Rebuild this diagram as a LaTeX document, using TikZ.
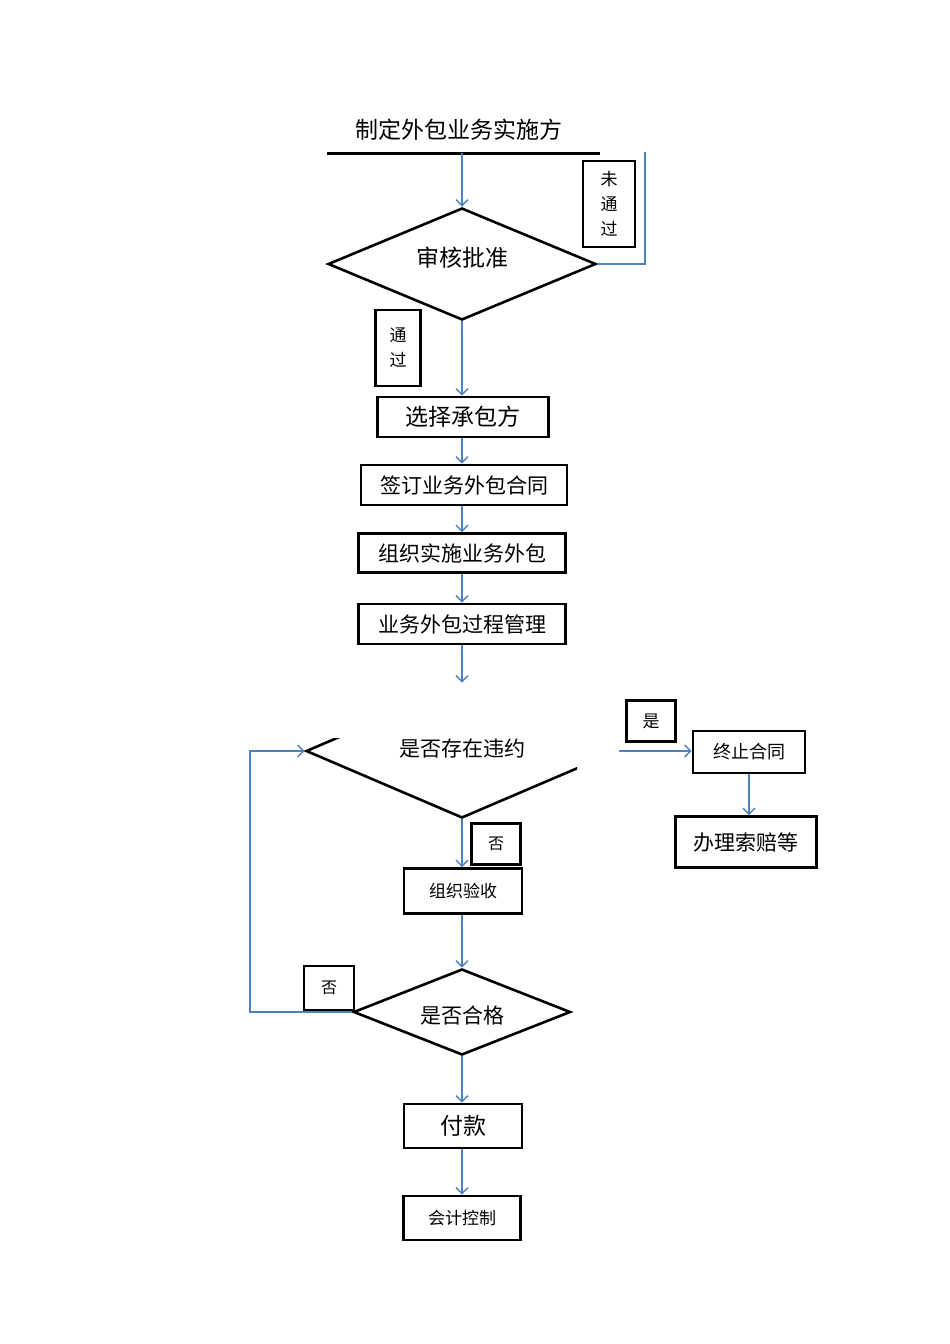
\documentclass[tikz,border=0pt]{standalone}
\usepackage{fontspec}
\newfontfamily\cjk{Noto Sans CJK SC}
\usetikzlibrary{shapes.geometric,arrows.meta}
\definecolor{conncol}{RGB}{79,129,189}
\newcommand{\fs}[1]{\fontsize{#1}{#1}\selectfont}
\tikzset{
  stepbox/.style={draw, line width=2.6pt, inner sep=0pt, font=\cjk},
  decide/.style={draw, diamond, line width=2.6pt, inner sep=0pt, aspect=3, font=\cjk},
  tag/.style={draw, line width=2.6pt, inner sep=0pt, font=\cjk\fs{17}, align=center},
  conn/.style={draw=conncol, line width=1.5pt, -{Straight Barb[length=6pt,width=12pt]}},
  plainconn/.style={draw=conncol, line width=1.5pt},
}
\begin{document}
\begin{tikzpicture}[x=1pt,y=-1pt]
\useasboundingbox (0,0) rectangle (950,1344);
% top plan
\node[font=\cjk\fs{23}] (plan) at (459,130) {制定外包业务实施方};
\draw[line width=3pt] (327,153) -- (600,153);
\coordinate (planbot) at (462,153);
% diamond 1
\node[decide, minimum width=268pt, minimum height=112pt] (d1) at (462,264) {};
\node[font=\cjk\fs{23}] (d1t) at (d1) [yshift=6pt] {审核批准};
\coordinate (loopend) at (645,152);
\draw[plainconn] (d1.east) -| (loopend);
\node[tag, minimum width=52pt, minimum height=86pt] (nopass) at (609,204) {\parbox{1em}{\centering\baselineskip=25pt 未\\通\\过}};
\draw[conn] (planbot) -- (d1.north);
\node[tag, minimum width=45pt, minimum height=76pt] (pass) at (398,348) {\parbox{1em}{\centering\baselineskip=25pt 通\\过}};
% step boxes
\node[stepbox, minimum width=171pt, minimum height=40pt, font=\cjk\fs{23}] (b1) at (463,417) {选择承包方};
\node[stepbox, minimum width=206pt, minimum height=40pt, font=\cjk\fs{21}] (b2) at (464,485) {签订业务外包合同};
\node[stepbox, minimum width=207pt, minimum height=39pt, font=\cjk\fs{21}] (b3) at (462,553) {组织实施业务外包};
\node[stepbox, minimum width=207pt, minimum height=40pt, font=\cjk\fs{21}] (b4) at (462,624) {业务外包过程管理};
\draw[conn] (d1.south) -- (d1.south |- b1.north);
\draw[conn] (d1.south |- b1.south) -- (d1.south |- b2.north);
\draw[conn] (d1.south |- b2.south) -- (d1.south |- b3.north);
\draw[conn] (d1.south |- b3.south) -- (d1.south |- b4.north);
% diamond 2 (clipped)
\begin{scope}
\clip (290,738) rectangle (577,830);
\node[decide, minimum width=312pt, minimum height=134pt] (d2) at (462,751) {};
\end{scope}
\node[font=\cjk\fs{21}] (d2t) at (462,749) {是否存在违约};
\draw[conn] (b4.south) -- (d2.north);
% right branch
\node[stepbox, minimum width=112pt, minimum height=42pt, font=\cjk\fs{18}] (stop) at (749,752) {终止合同};
\node[stepbox, minimum width=141pt, minimum height=51pt, font=\cjk\fs{21}] (claim) at (746,842) {办理索赔等};
\node[tag, minimum width=49pt, minimum height=41pt] (yes) at (651,721) {是};
\draw[conn] (d2.east) -- (d2.east -| stop.west);
\draw[conn] (stop.south) -- (stop.south |- claim.north);
% acceptance
\node[stepbox, minimum width=118pt, minimum height=45pt, font=\cjk\fs{17}] (accept) at (463,891) {组织验收};
\node[tag, minimum width=49pt, minimum height=41pt, font=\cjk\fs{16}] (no1) at (496,844) {否};
\draw[conn] (d2.south) -- (d2.south |- accept.north);
% diamond 3
\node[decide, minimum width=217pt, minimum height=86pt] (d3) at (462,1012) {};
\node[font=\cjk\fs{21}] (d3t) at (462,1015) {是否合格};
\draw[conn] (d2.south |- accept.south) -- (d3.north);
\coordinate (loopb) at (250,751);
\draw[conn] (d3.west) -| (loopb) -- (d2.west);
\node[tag, minimum width=50pt, minimum height=44pt, font=\cjk\fs{16}] (no2) at (329,988) {否};
% payment
\node[stepbox, minimum width=118pt, minimum height=44pt, font=\cjk\fs{23}] (pay) at (463,1126) {付款};
\node[stepbox, minimum width=117pt, minimum height=44pt, font=\cjk\fs{17}] (acct) at (462,1218) {会计控制};
\draw[conn] (d3.south) -- (d3.south |- pay.north);
\draw[conn] (d3.south |- pay.south) -- (d3.south |- acct.north);
\end{tikzpicture}
\end{document}
